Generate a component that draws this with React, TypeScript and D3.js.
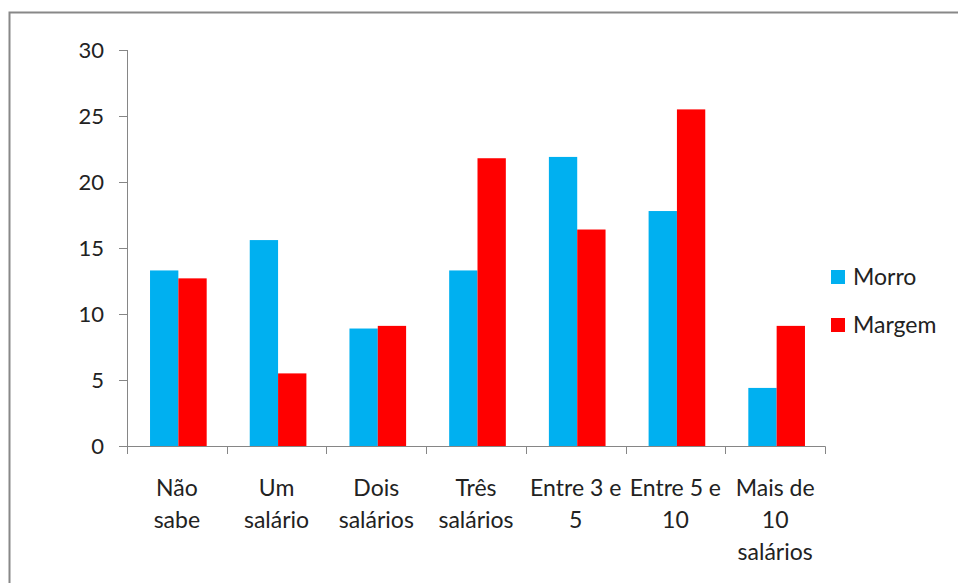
import React from 'react'
import * as d3 from 'd3'

const categories = [
  ['Não', 'sabe'],
  ['Um', 'salário'],
  ['Dois', 'salários'],
  ['Três', 'salários'],
  ['Entre 3 e', '5'],
  ['Entre 5 e', '10'],
  ['Mais de', '10', 'salários'],
]
const seriesNames = ['Morro', 'Margem']
const morro = [13.3, 15.6, 8.9, 13.3, 21.9, 17.8, 4.4]
const margem = [12.7, 5.5, 9.1, 21.8, 16.4, 25.5, 9.1]
const yTicks = [0, 5, 10, 15, 20, 25, 30]
const colors = ['#00B0F0', '#FF0000']

const W = 958
const H = 583
const font = 'Lato, "Open Sans", sans-serif'

export default function App() {
  const x = d3
    .scaleBand<number>()
    .domain(categories.map((_, i) => i))
    .range([127, 825])
  const inner = d3
    .scaleBand<number>()
    .domain([0, 1])
    .range([1.5, x.bandwidth() + 1.5])
    .paddingInner(0)
    .paddingOuter(0.76)
  const y = d3.scaleLinear().domain([0, 30]).range([446, 50])
  const series = [morro, margem]

  return (
    <svg
      width={W}
      height={H}
      style={{ position: 'absolute', left: 0, top: 0, background: '#fff' }}
      fontFamily={font}
    >
      <rect x={9.5} y={12.5} width={980} height={620} fill="#fff" stroke="#888" strokeWidth={2} />

      {/* y axis */}
      <line x1={127.5} x2={127.5} y1={y(30)} y2={y(0)} stroke="#868686" />
      {yTicks.map((t) => (
        <g key={t}>
          <line x1={119} x2={127.5} y1={Math.round(y(t)) + 0.5} y2={Math.round(y(t)) + 0.5} stroke="#868686" />
          <text x={104} y={y(t)} dy="0.35em" textAnchor="end" fontSize={22} fill="#222">
            {t}
          </text>
        </g>
      ))}

      {/* bars */}
      {series.map((vals, s) =>
        vals.map((v, i) => (
          <rect
            key={`${s}-${i}`}
            x={(x(i) ?? 0) + (inner(s) ?? 0)}
            y={y(v)}
            width={inner.bandwidth()}
            height={y(0) - y(v)}
            fill={colors[s]}
          />
        )),
      )}

      {/* x axis */}
      <line x1={127} x2={825.5} y1={446.5} y2={446.5} stroke="#868686" />
      {d3.range(categories.length + 1).map((i) => {
        const px = Math.round(127 + i * x.step()) + 0.5
        return <line key={i} x1={px} x2={px} y1={446.5} y2={454} stroke="#868686" />
      })}
      {categories.map((lines, i) => (
        <text
          key={i}
          x={(x(i) ?? 0) + x.bandwidth() / 2}
          y={488}
          textAnchor="middle"
          fontSize={23}
          fill="#222"
        >
          {lines.map((l, j) => (
            <tspan key={j} x={(x(i) ?? 0) + x.bandwidth() / 2} dy={j === 0 ? '0.35em' : 32}>
              {l}
            </tspan>
          ))}
        </text>
      ))}

      {/* legend */}
      {seriesNames.map((n, i) => (
        <g key={n} transform={`translate(831, ${270 + i * 48})`}>
          <rect width={14} height={14} fill={colors[i]} />
          <text x={22} y={7} dy="0.35em" fontSize={23} fill="#222">
            {n}
          </text>
        </g>
      ))}
    </svg>
  )
}
